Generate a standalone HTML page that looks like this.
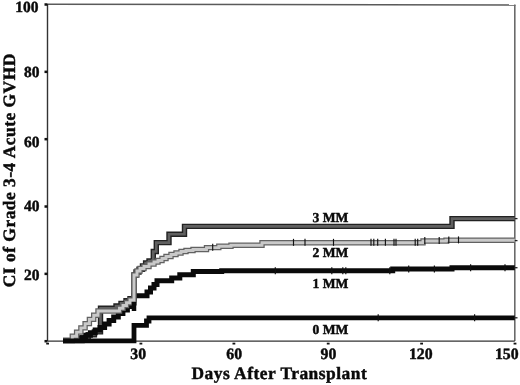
<!DOCTYPE html>
<html><head><meta charset="utf-8"><style>
html,body{margin:0;padding:0;background:#fff;width:520px;height:385px;overflow:hidden}
svg{display:block;filter:blur(0.4px)}
</style></head><body>
<svg width="520" height="385" viewBox="0 0 520 385"><line x1="47.5" y1="4.2" x2="515.6" y2="5.1" stroke="#5a5a5a" stroke-width="1.5"/><line x1="514.8" y1="4.4" x2="514.8" y2="341.1" stroke="#6a6a6a" stroke-width="1.6"/><line x1="47.5" y1="3.9" x2="47.5" y2="341.1" stroke="#333" stroke-width="1.4"/><line x1="47.5" y1="341.1" x2="514.8" y2="341.1" stroke="#333" stroke-width="1.4"/><rect x="44.5" y="3.25" width="3" height="2.5" fill="#111"/><rect x="44.5" y="70.59" width="3" height="2.5" fill="#111"/><rect x="44.5" y="137.93" width="3" height="2.5" fill="#111"/><rect x="44.5" y="205.27" width="3" height="2.5" fill="#111"/><rect x="44.5" y="272.61" width="3" height="2.5" fill="#111"/><rect x="44.5" y="339.95" width="3" height="2.5" fill="#111"/><rect x="46.20" y="342.7" width="2.8" height="1.8" fill="#111"/><rect x="139.50" y="342.7" width="2.8" height="1.8" fill="#111"/><rect x="232.50" y="342.7" width="2.8" height="1.8" fill="#111"/><rect x="326.80" y="342.7" width="2.8" height="1.8" fill="#111"/><rect x="420.20" y="342.7" width="2.8" height="1.8" fill="#111"/><rect x="513.60" y="342.7" width="2.8" height="1.8" fill="#111"/><path d="M63,340.5 L76,340.5 L82.1,340.5 L82.1,337.6 L88.2,337.6 L88.2,334.8 L94.4,334.8 L94.4,331.9 L100.5,331.9 L100.5,329.0 L100.5,308.2 L116,308.2 L116,306 L121,306 L121,303.4 L126,303.4 L126,300.8 L130,300.8 L130,298.7 L134,298.7 L134,275 L136,275 L136,272 L139,272 L139,269.3 L142.5,269.3 L142.5,266 L145.6,266 L145.6,263 L149,263 L149,261 L153.3,261 L153.3,251.5 L156.3,251.5 L156.3,242.6 L169,242.6 L169,234.2 L184.5,234.2 L184.5,226.4 L452,226.4 L452,218.6 L514.8,218.6" fill="none" stroke="#222" stroke-width="5.4" stroke-linejoin="miter"/><path d="M63,340.5 L76,340.5 L82.1,340.5 L82.1,337.6 L88.2,337.6 L88.2,334.8 L94.4,334.8 L94.4,331.9 L100.5,331.9 L100.5,329.0 L100.5,308.2 L116,308.2 L116,306 L121,306 L121,303.4 L126,303.4 L126,300.8 L130,300.8 L130,298.7 L134,298.7 L134,275 L136,275 L136,272 L139,272 L139,269.3 L142.5,269.3 L142.5,266 L145.6,266 L145.6,263 L149,263 L149,261 L153.3,261 L153.3,251.5 L156.3,251.5 L156.3,242.6 L169,242.6 L169,234.2 L184.5,234.2 L184.5,226.4 L452,226.4 L452,218.6 L514.8,218.6" fill="none" stroke="#606060" stroke-width="2.6" stroke-linejoin="miter"/><path d="M63,340.5 L76,340.5 L80.8,340.5 L80.8,337.9 L85.6,337.9 L85.6,335.3 L90.4,335.3 L90.4,332.7 L95.2,332.7 L95.2,330.1 L100.0,330.1 L100.0,327.5 L104.6,327.5 L104.6,324.0 L109.1,324.0 L109.1,320.5 L113.7,320.5 L113.7,317.0 L118.3,317.0 L118.3,313.5 L122.9,313.5 L122.9,310.0 L127.4,310.0 L127.4,306.5 L132.0,306.5 L132.0,303.0 L134,303 L134,295.8 L147,295.8 L147,292 L150.5,292 L150.5,288 L154,288 L154,284.5 L157,284.5 L157,280.8 L171.7,280.8 L171.7,278 L179.8,278 L179.8,274.8 L193.3,274.8 L193.3,271.4 L221.7,271.4 L221.7,270.8 L392.7,270.8 L392.7,269 L452,269 L452,267.7 L514.8,267.7" fill="none" stroke="#0a0a0a" stroke-width="5" stroke-linejoin="miter"/><path d="M63,340.5 L68,340.5 L72.3,340.5 L72.3,336.3 L76.6,336.3 L76.6,332.1 L80.9,332.1 L80.9,327.9 L85.1,327.9 L85.1,323.6 L89.4,323.6 L89.4,319.4 L93.7,319.4 L93.7,315.2 L98.0,315.2 L98.0,311.0 L116,311 L119.5,311 L119.5,308.2 L123.0,308.2 L123.0,305.5 L126.5,305.5 L126.5,302.8 L130.0,302.8 L130.0,300.0 L134,300 L134,275 L137,275 L137,271 L140,271 L140,268.5 L144,268.5 L144,266.5 L149,266.5 L149,264 L154,264 L154,262 L158,262 L158,260.5 L162,260.5 L162,258.5 L166,258.5 L166,256.5 L171,256.5 L171,254.5 L176,254.5 L176,253 L181,253 L181,251.5 L186,251.5 L186,250.5 L193,250.5 L193,249.5 L206.5,249.5 L206.5,247.6 L218.8,247.6 L218.8,246.3 L231,246.3 L231,245.2 L262,245.2 L262,242.75 L423,242.75 L423,241 L446,241 L446,240.3 L514.8,240.3" fill="none" stroke="#626262" stroke-width="5.4" stroke-linejoin="miter"/><path d="M63,340.5 L68,340.5 L72.3,340.5 L72.3,336.3 L76.6,336.3 L76.6,332.1 L80.9,332.1 L80.9,327.9 L85.1,327.9 L85.1,323.6 L89.4,323.6 L89.4,319.4 L93.7,319.4 L93.7,315.2 L98.0,315.2 L98.0,311.0 L116,311 L119.5,311 L119.5,308.2 L123.0,308.2 L123.0,305.5 L126.5,305.5 L126.5,302.8 L130.0,302.8 L130.0,300.0 L134,300 L134,275 L137,275 L137,271 L140,271 L140,268.5 L144,268.5 L144,266.5 L149,266.5 L149,264 L154,264 L154,262 L158,262 L158,260.5 L162,260.5 L162,258.5 L166,258.5 L166,256.5 L171,256.5 L171,254.5 L176,254.5 L176,253 L181,253 L181,251.5 L186,251.5 L186,250.5 L193,250.5 L193,249.5 L206.5,249.5 L206.5,247.6 L218.8,247.6 L218.8,246.3 L231,246.3 L231,245.2 L262,245.2 L262,242.75 L423,242.75 L423,241 L446,241 L446,240.3 L514.8,240.3" fill="none" stroke="#c9c9c9" stroke-width="2.9" stroke-linejoin="miter"/><path d="M63,340.9 L134,340.9 L134,325.3 L146.5,325.3 L146.5,321 L149,321 L149,317.8 L514.8,317.8" fill="none" stroke="#0a0a0a" stroke-width="4.8" stroke-linejoin="miter"/><line x1="134" y1="311" x2="134" y2="302" stroke="#0a0a0a" stroke-width="4.5"/><line x1="212.7" y1="243.7" x2="212.7" y2="250.7" stroke="#111" stroke-width="1.15"/><line x1="293.5" y1="238.85" x2="293.5" y2="245.85" stroke="#111" stroke-width="1.15"/><line x1="305" y1="238.85" x2="305" y2="245.85" stroke="#111" stroke-width="1.15"/><line x1="333.5" y1="238.85" x2="333.5" y2="245.85" stroke="#111" stroke-width="1.15"/><line x1="371" y1="238.85" x2="371" y2="245.85" stroke="#111" stroke-width="1.15"/><line x1="373.8" y1="238.85" x2="373.8" y2="245.85" stroke="#111" stroke-width="1.15"/><line x1="377.7" y1="238.85" x2="377.7" y2="245.85" stroke="#111" stroke-width="1.15"/><line x1="385.4" y1="238.85" x2="385.4" y2="245.85" stroke="#111" stroke-width="1.15"/><line x1="394" y1="238.85" x2="394" y2="245.85" stroke="#111" stroke-width="1.15"/><line x1="396" y1="238.85" x2="396" y2="245.85" stroke="#111" stroke-width="1.15"/><line x1="415.2" y1="238.85" x2="415.2" y2="245.85" stroke="#111" stroke-width="1.15"/><line x1="417.7" y1="238.85" x2="417.7" y2="245.85" stroke="#111" stroke-width="1.15"/><line x1="424.8" y1="237.1" x2="424.8" y2="244.1" stroke="#111" stroke-width="1.15"/><line x1="439.2" y1="237.1" x2="439.2" y2="244.1" stroke="#111" stroke-width="1.15"/><line x1="448.8" y1="236.4" x2="448.8" y2="243.4" stroke="#111" stroke-width="1.15"/><line x1="458.5" y1="236.4" x2="458.5" y2="243.4" stroke="#111" stroke-width="1.15"/><line x1="275.3" y1="267.3" x2="275.3" y2="274.3" stroke="#111" stroke-width="1.2"/><line x1="331.8" y1="267.3" x2="331.8" y2="274.3" stroke="#111" stroke-width="1.2"/><line x1="342.8" y1="267.3" x2="342.8" y2="274.3" stroke="#111" stroke-width="1.2"/><line x1="345.8" y1="267.3" x2="345.8" y2="274.3" stroke="#111" stroke-width="1.2"/><line x1="389.8" y1="267.3" x2="389.8" y2="274.3" stroke="#111" stroke-width="1.2"/><line x1="408.7" y1="265.5" x2="408.7" y2="272.5" stroke="#111" stroke-width="1.2"/><line x1="434.4" y1="265.5" x2="434.4" y2="272.5" stroke="#111" stroke-width="1.2"/><line x1="470.6" y1="264.2" x2="470.6" y2="271.2" stroke="#111" stroke-width="1.2"/><line x1="505" y1="264.2" x2="505" y2="271.2" stroke="#111" stroke-width="1.2"/><line x1="378.2" y1="314.3" x2="378.2" y2="321.3" stroke="#111" stroke-width="1.2"/><line x1="474.6" y1="314.3" x2="474.6" y2="321.3" stroke="#111" stroke-width="1.2"/><line x1="514.8" y1="218.6" x2="517.5" y2="218.6" stroke="#222" stroke-width="1.3"/><line x1="514.8" y1="240.6" x2="517.5" y2="240.6" stroke="#222" stroke-width="1.3"/><line x1="514.8" y1="267.7" x2="517.5" y2="267.7" stroke="#222" stroke-width="1.3"/><line x1="514.8" y1="317.8" x2="517.5" y2="317.8" stroke="#222" stroke-width="1.3"/><g style='font-family:"Liberation Serif",serif;font-weight:bold;text-rendering:geometricPrecision;' fill="#0a0a0a" stroke="#0a0a0a" stroke-width="0.45"><text x="38.4" y="12" font-size="15.5" text-anchor="end" >100</text><text x="39.6" y="77.2" font-size="15.5" text-anchor="end" >80</text><text x="39.6" y="147.1" font-size="15.5" text-anchor="end" >60</text><text x="39.6" y="211.1" font-size="15.5" text-anchor="end" >40</text><text x="39.6" y="280.2" font-size="15.5" text-anchor="end" >20</text><text x="138.2" y="359" font-size="15.8" text-anchor="middle" >30</text><text x="234.2" y="359" font-size="15.8" text-anchor="middle" >60</text><text x="328.5" y="359" font-size="15.8" text-anchor="middle" >90</text><text x="420.8" y="359" font-size="15.8" text-anchor="middle" >120</text><text x="506.8" y="359" font-size="15.8" text-anchor="middle" >150</text><text x="191.5" y="379.4" font-size="17.4" text-anchor="start" letter-spacing="0.5">Days After Transplant</text><text x="0" y="0" font-size="17.4" text-anchor="start" letter-spacing="0.51" transform="translate(14.9,287.2) rotate(-90)">CI of Grade 3-4 Acute GVHD</text><text x="0" y="0" font-size="13.6" text-anchor="middle" transform="translate(330.5,221.5) ">3 MM</text><text x="0" y="0" font-size="13.6" text-anchor="middle" transform="translate(330.5,256.8) ">2 MM</text><text x="0" y="0" font-size="13.6" text-anchor="middle" transform="translate(330.5,288) ">1 MM</text><text x="0" y="0" font-size="13.6" text-anchor="middle" transform="translate(330.5,333.5) ">0 MM</text></g></svg>
</body></html>
